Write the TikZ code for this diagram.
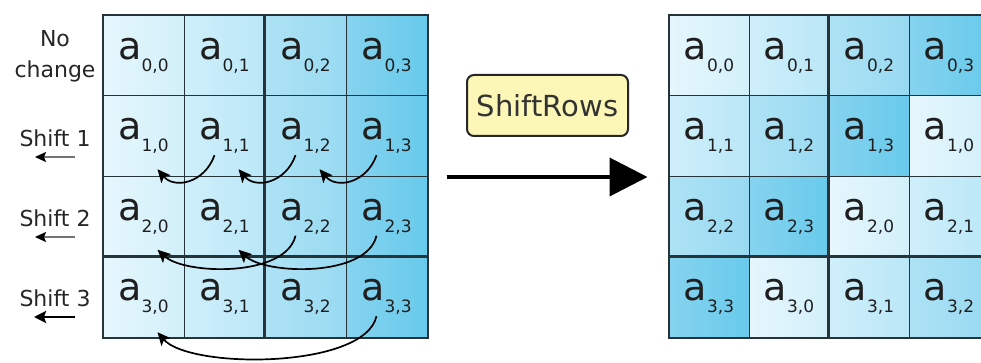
\documentclass[tikz,border=0pt]{standalone}
\usepackage{fontspec}
\setmainfont{DejaVu Sans}
\usetikzlibrary{positioning}
\usetikzlibrary{arrows.meta}

% light to dark blue, one pair per column of the state
\definecolor{tintL0}{HTML}{E6F6FC}
\definecolor{tintR0}{HTML}{D2F0FA}
\definecolor{tintL1}{HTML}{CFEFFA}
\definecolor{tintR1}{HTML}{BAE7F7}
\definecolor{tintL2}{HTML}{AEE2F5}
\definecolor{tintR2}{HTML}{98DAF2}
\definecolor{tintL3}{HTML}{86D3EF}
\definecolor{tintR3}{HTML}{68CAEC}
\definecolor{gridline}{HTML}{26343A}
\definecolor{boxfill}{HTML}{FCF7B6}

\newcommand{\aentry}[2]{{\fontsize{38}{38}\selectfont a}\raisebox{-12pt}{\fontsize{17}{17}\selectfont #1,#2}}

\begin{document}
\begin{tikzpicture}[x=1pt, y=-1pt,
    cell/.style={rectangle, draw=gridline, line width=1pt, inner sep=0pt, minimum height=80.5pt, text=black!88},
    rowlab/.style={font=\fontsize{22}{31}\selectfont, text=black!85, align=center},
    move/.style={-{Stealth[length=13pt,width=12pt,inset=3pt]}, black, line width=1.7pt},
    slim/.style={-{Stealth[length=11pt,width=10pt,inset=2pt,color=black]}, black!55, line width=1.5pt}]

    \fill[white] (0,0) rectangle (981,363);
    \clip (0,0) rectangle (981,363);

    % state before and after
    \foreach \i in {0,...,3} {
        \foreach \j in {0,...,3} {
            \pgfmathtruncatemacro{\k}{mod(\i+\j,4)}
            \node[cell, minimum width=81pt, left color=tintL\j, right color=tintR\j] (L\i\j)
                at (143.5+81*\j, 55.75+80.5*\i) {\aentry{\i}{\j}};
            \node[cell, minimum width=80pt, left color=tintL\k, right color=tintR\k] (R\i\j)
                at (709+80*\j, 55.75+80.5*\i) {\aentry{\i}{\k}};
        }
    }

    \draw[gridline, line width=2pt] (L00.north west) rectangle (L33.south east);
    \draw[gridline, line width=2.2pt] (L02.north west) -- (L32.south west);
    \draw[gridline, line width=2.2pt] (L30.north west) -- (L33.north east);
    \draw[gridline, line width=1.6pt] (R00.north west) rectangle (R33.south east);
    \draw[gridline, line width=2.2pt] (R02.north west) -- (R32.south west);
    \draw[gridline, line width=2.2pt] (R30.north west) -- (R33.north east);

    % row labels
    \node[rowlab] (nochg) at (55,56) {No\\change};
    \node[rowlab, anchor=base] (sh1) at (55,147) {Shift 1};
    \node[rowlab, anchor=base] (sh2) at (55,226) {Shift 2};
    \node[rowlab, anchor=base] (sh3) at (55,306) {Shift 3};

    \draw[slim] ([shift={(20,10)}]sh1.base) -- ([shift={(-20,10)}]sh1.base);
    \draw[slim] ([shift={(20,11)}]sh2.base) -- ([shift={(-20,11)}]sh2.base);
    \draw[-{Stealth[length=12pt,width=12pt,inset=2pt]}, black, line width=2.8pt] ([shift={(20,11)}]sh3.base) -- ([shift={(-21,11)}]sh3.base);

    % cyclic moves
    \draw[move] ([shift={(-10,19)}]L11.center) .. controls +(-10,28) and +(17,20) .. ([shift={(14,33)}]L10.center);
    \draw[move] ([shift={(-10,19)}]L12.center) .. controls +(-10,28) and +(17,20) .. ([shift={(14,33)}]L11.center);
    \draw[move] ([shift={(-10,19)}]L13.center) .. controls +(-10,28) and +(17,20) .. ([shift={(14,33)}]L12.center);
    \draw[move] ([shift={(-10,19)}]L22.center) .. controls +(-10,42) and +(27,25) .. ([shift={(14,33)}]L20.center);
    \draw[move] ([shift={(-10,19)}]L23.center) .. controls +(-10,42) and +(27,25) .. ([shift={(14,33)}]L21.center);
    \draw[move] ([shift={(-10,19)}]L33.center) .. controls +(-12,53) and +(32,37) .. ([shift={(14,35)}]L30.center);

    % the step itself
    \node[draw=black!85, line width=2pt, fill=boxfill, rounded corners=7pt, minimum width=161pt, minimum height=61pt,
          inner sep=0pt, font=\fontsize{29}{29}\selectfont, text=black!80] (shr) at (547.5,105.5) {ShiftRows};
    \draw[line width=4pt, -{Triangle[length=38pt,width=38pt]}] ([xshift=19pt]L13.south east) -- ([xshift=-21pt]R10.south west);
\end{tikzpicture}
\end{document}
